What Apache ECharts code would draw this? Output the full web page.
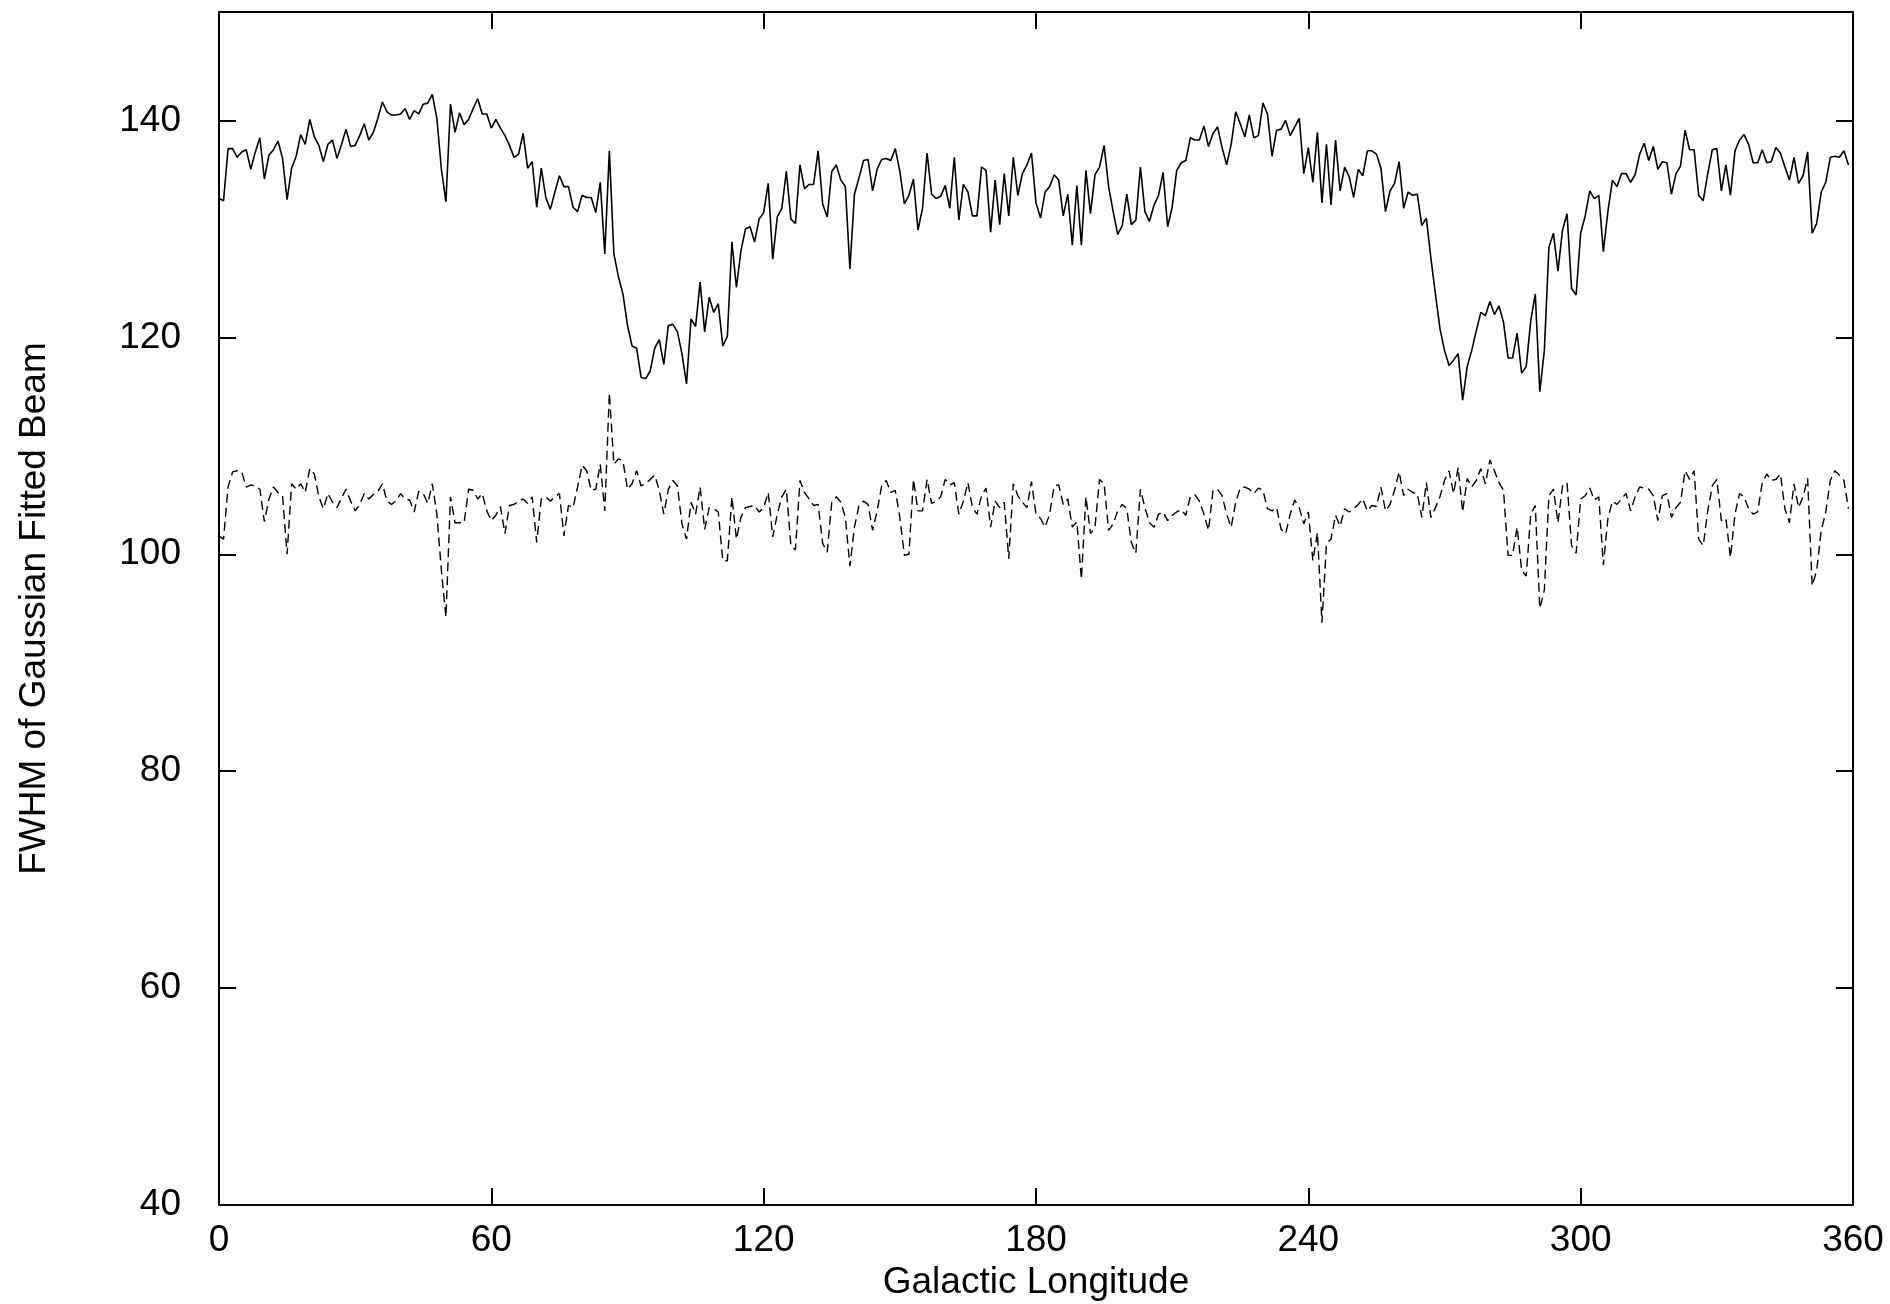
<!DOCTYPE html>
<html>
<head>
<meta charset="utf-8">
<script src="https://cdn.jsdelivr.net/npm/echarts@6/dist/echarts.min.js"></script>
<style>
html,body{margin:0;padding:0;background:#fff;}
#chart{width:1890px;height:1304px;}
</style>
</head>
<body>
<div id="chart"></div>
<script>
// Galactic longitude sampling grid (degrees)
const lonStart = 0;
const lonCount = 360;

// Solid line: FWHM values, longitude 0-119, 120-239, 240-359
const solidA = [
132.8,132.6,137.4,137.4,136.6,137.1,137.3,135.5,137.1,138.4,
134.6,136.8,137.3,138.1,136.5,132.7,135.6,136.7,138.7,137.8,
140.1,138.5,137.7,136.2,137.8,138.2,136.5,137.8,139.2,137.6,
137.7,138.6,139.7,138.2,138.9,140.2,141.7,140.8,140.5,140.5,
140.6,141.1,140.1,140.9,140.6,141.5,141.6,142.4,140.2,135.5,
132.5,141.5,138.9,140.7,139.6,140.1,141.1,142.0,140.6,140.6,
139.3,140.1,139.3,138.6,137.7,136.6,136.9,138.8,135.6,136.2,
132.0,135.6,132.9,131.8,133.4,134.9,133.9,133.9,132.0,131.6,
133.1,132.9,132.9,131.5,134.3,127.7,137.2,127.7,125.6,124.0,
121.1,119.2,119.0,116.3,116.2,116.9,119.0,119.8,117.5,121.1,
121.2,120.5,118.5,115.7,121.7,121.0,125.1,120.5,123.7,122.3,
123.1,119.2,120.1,128.8,124.6,128.0,130.0,130.2,128.8,130.9
];
const solidB = [
131.5,134.2,127.2,131.1,131.9,135.3,130.9,130.5,135.9,133.7,
134.1,134.1,137.2,132.3,131.1,135.3,135.9,134.5,133.9,126.3,
133.2,134.7,136.3,136.4,133.5,135.5,136.4,136.5,136.3,137.4,
135.3,132.3,133.1,134.6,129.9,131.9,137.0,133.2,132.8,133.0,
134.0,131.9,136.6,130.8,134.1,133.4,131.2,131.2,135.7,135.4,
129.7,134.5,130.4,135.1,131.2,136.6,133.1,135.1,135.9,137.0,
132.4,131.0,133.4,133.9,135.0,134.5,131.2,133.2,128.5,134.0,
128.5,135.4,131.4,135.0,135.7,137.7,133.9,131.6,129.5,130.3,
133.2,130.4,130.8,135.7,131.6,130.7,132.2,133.1,135.2,130.2,
132.0,135.4,136.1,136.3,138.4,138.2,138.2,139.5,137.6,138.8,
139.4,137.5,135.9,137.8,140.8,139.7,138.5,140.5,138.4,138.6,
141.6,140.6,136.7,139.1,139.2,140.0,138.6,139.4,140.2,135.1
];
const solidC = [
137.5,134.3,138.9,132.4,137.8,132.2,138.2,133.5,135.7,134.8,
132.9,135.5,134.9,137.2,137.2,136.9,135.6,131.6,133.5,134.2,
136.2,131.9,133.4,133.1,133.2,130.3,131.0,127.3,124.0,120.8,
118.8,117.4,117.9,118.5,114.2,117.3,118.8,120.6,122.3,122.0,
123.3,122.1,122.9,121.4,118.1,118.1,120.4,116.7,117.3,121.5,
124.0,115.0,118.8,128.3,129.6,126.1,129.9,131.4,124.5,123.9,
129.6,131.2,133.5,132.8,133.1,127.9,131.6,134.5,133.9,135.1,
135.1,134.3,135.0,136.9,137.9,136.3,137.6,135.5,136.2,136.1,
133.2,135.1,135.8,139.1,137.3,137.3,133.1,132.6,135.1,137.3,
137.4,133.5,135.9,133.1,137.2,138.2,138.7,137.8,136.1,136.1,
137.3,136.1,136.2,137.5,137.0,135.7,134.5,136.6,134.2,134.9,
137.1,129.6,130.5,133.4,134.3,136.6,136.7,136.6,137.2,135.9
];

// Dashed line: FWHM values, longitude 0-119, 120-239, 240-359
const dashA = [
101.7,101.4,106.2,107.6,107.7,107.6,106.2,106.4,106.3,106.0,
103.0,105.1,106.2,105.7,105.4,100.0,106.5,106.0,106.5,105.7,
107.9,107.4,105.3,104.2,105.6,104.8,104.3,105.2,106.0,104.9,
104.0,104.6,105.6,105.1,105.5,105.8,106.5,104.9,104.6,104.9,
105.6,105.1,105.0,103.9,105.8,105.6,104.7,106.5,103.7,98.5,
94.2,105.3,102.9,102.9,102.9,106.0,105.9,105.1,105.6,104.0,
103.1,103.6,104.4,101.9,104.5,104.6,104.9,105.1,104.7,105.3,
101.1,105.1,105.3,104.9,105.3,105.6,101.7,104.5,104.3,106.2,
108.2,107.7,105.9,106.0,108.3,104.0,114.9,108.3,108.8,108.6,
106.0,106.5,107.7,106.3,106.5,106.9,107.3,105.9,103.7,106.0,
106.8,106.3,102.8,101.4,104.8,103.7,106.2,102.3,104.3,104.2,
103.9,99.4,99.4,105.3,101.4,103.4,104.3,104.4,104.5,103.9
];
const dashB = [
104.3,105.7,101.6,103.7,105.3,106.0,100.8,100.4,106.8,105.7,
105.1,104.5,104.6,101.0,100.2,104.8,105.3,104.8,103.4,98.9,
102.5,104.5,104.9,104.6,102.2,104.0,106.3,106.8,105.7,105.9,
103.4,99.9,100.0,106.9,104.0,104.0,106.9,104.7,104.9,105.3,
106.9,106.4,106.6,103.7,104.9,106.6,104.3,103.7,105.4,106.1,
102.5,104.9,104.3,104.8,99.6,106.5,105.4,104.8,104.3,106.7,
103.7,103.3,102.5,103.7,106.3,106.4,104.6,105.1,102.5,103.0,
97.7,105.3,101.9,102.5,106.9,106.5,102.2,102.8,104.0,104.6,
104.2,101.1,100.1,106.0,104.3,102.9,102.5,103.7,103.9,103.1,
103.6,103.9,104.1,103.6,105.3,105.5,104.9,103.7,102.2,105.9,
106.0,105.4,103.7,102.5,104.8,106.1,106.2,106.0,105.6,106.1,
105.9,104.2,104.0,104.3,102.3,101.9,103.7,105.0,104.3,102.8
];
const dashC = [
103.9,99.4,102.0,93.7,101.0,101.4,103.6,102.6,104.2,103.9,
104.2,104.6,105.1,104.0,104.5,104.4,106.2,104.0,104.6,105.9,
107.6,105.4,106.0,105.7,105.6,103.4,106.6,103.4,104.3,105.3,
106.8,107.7,105.6,108.0,103.9,107.0,106.2,106.8,107.9,106.5,
108.7,107.7,106.6,105.9,99.9,99.9,102.5,98.5,98.0,103.7,
104.5,95.0,96.7,105.4,106.0,102.9,106.3,106.6,100.8,100.1,
105.1,105.4,106.1,105.0,105.3,99.0,103.3,104.9,104.6,105.1,
105.6,104.0,105.3,106.2,106.1,106.0,105.4,103.1,105.4,105.6,
103.4,104.3,104.8,107.7,106.9,107.7,101.4,100.8,104.0,106.3,
106.9,103.1,103.3,99.7,103.7,105.6,105.3,104.2,103.7,103.9,
106.6,107.4,106.8,106.9,107.4,104.2,102.9,106.5,104.3,105.3,
107.0,97.1,98.5,102.2,103.9,106.8,107.7,107.3,106.8,104.2
];

const xTitle = 'Galactic Longitude';
const yTitle = 'FWHM of Gaussian Fitted Beam';

const lon = Array.from({length: lonCount}, (_, i) => lonStart + i);
const solid = solidA.concat(solidB, solidC);
const dashed = dashA.concat(dashB, dashC);
const solidData = lon.map((x, i) => [x, solid[i]]);
const dashedData = lon.map((x, i) => [x, dashed[i]]);

const FONT = '"Liberation Sans", Arial, Helvetica, sans-serif';
const FS = 37;

const chart = echarts.init(document.getElementById('chart'), null, {renderer: 'canvas'});
const axisLine = {show: true, onZero: false, lineStyle: {color: '#000', width: 2}};
const tick = {show: true, inside: true, length: 17, lineStyle: {color: '#000', width: 2}};

chart.setOption({
  animation: false,
  backgroundColor: '#fff',
  grid: {left: 219, right: 37, top: 12, bottom: 99, containLabel: false, outerBoundsMode: 'none'},
  xAxis: [
    {
      type: 'value', position: 'bottom', min: 0, max: 360, interval: 60,
      axisLine: axisLine, axisTick: tick, splitLine: {show: false},
      axisLabel: {color: '#000', fontFamily: FONT, fontSize: FS, margin: 17},
      name: xTitle, nameLocation: 'middle', nameGap: 52,
      nameTextStyle: {color: '#000', fontFamily: FONT, fontSize: FS}
    },
    {
      type: 'value', position: 'top', min: 0, max: 360, interval: 60,
      axisLine: axisLine, axisTick: tick, splitLine: {show: false},
      axisLabel: {show: false}
    }
  ],
  yAxis: [
    {
      type: 'value', position: 'left', min: 40, max: 150, interval: 20,
      axisLine: axisLine, axisTick: tick, splitLine: {show: false},
      axisLabel: {color: '#000', fontFamily: FONT, fontSize: FS, margin: 38, showMaxLabel: false},
      name: yTitle, nameLocation: 'middle', nameGap: 166, nameRotate: 90,
      nameTextStyle: {color: '#000', fontFamily: FONT, fontSize: FS}
    },
    {
      type: 'value', position: 'right', min: 40, max: 150, interval: 20,
      axisLine: axisLine, axisTick: tick, splitLine: {show: false},
      axisLabel: {show: false}
    }
  ],
  series: [
    {
      type: 'line', xAxisIndex: 0, yAxisIndex: 0, data: solidData,
      showSymbol: false, symbol: 'none', silent: true,
      lineStyle: {color: '#000', width: 1.6, type: 'solid'}
    },
    {
      type: 'line', xAxisIndex: 0, yAxisIndex: 0, data: dashedData,
      showSymbol: false, symbol: 'none', silent: true,
      lineStyle: {color: '#000', width: 1.4, type: [9, 5]}
    }
  ]
});
</script>
</body>
</html>
